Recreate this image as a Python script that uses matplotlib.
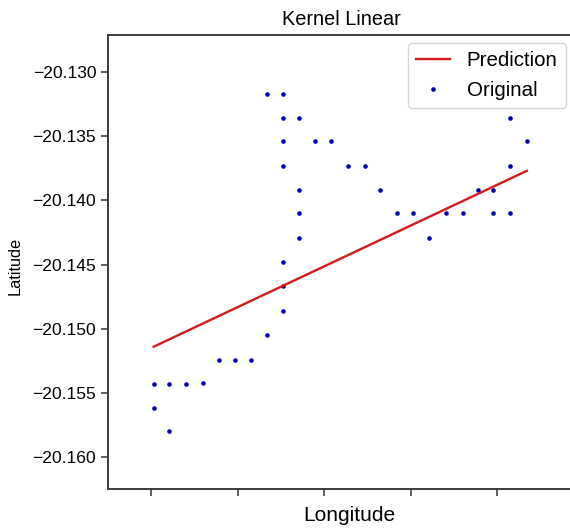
import matplotlib
matplotlib.use("Agg")
import matplotlib.pyplot as plt

plt.rcParams['font.family'] = ['Liberation Sans', 'DejaVu Sans']

# Original observations (longitude, latitude)
lon = [57.5003, 57.5003, 57.5021, 57.5021, 57.5040, 57.5060, 57.5078, 57.5097,
       57.5115, 57.5134, 57.5134, 57.5152, 57.5152, 57.5152, 57.5152, 57.5152,
       57.5152, 57.5152, 57.5171, 57.5171, 57.5171, 57.5171, 57.5189, 57.5208,
       57.5228, 57.5247, 57.5265, 57.5284, 57.5302, 57.5321, 57.5341, 57.5360,
       57.5378, 57.5395, 57.5395, 57.5415, 57.5415, 57.5415, 57.5434]
lat = [-20.1543, -20.1562, -20.1543, -20.1580, -20.1543, -20.1542, -20.1524, -20.1524,
       -20.1524, -20.1505, -20.1317, -20.1317, -20.1336, -20.1354, -20.1373, -20.1448,
       -20.1467, -20.1486, -20.1336, -20.1392, -20.1410, -20.1429, -20.1354, -20.1354,
       -20.1373, -20.1373, -20.1392, -20.1410, -20.1410, -20.1429, -20.1410, -20.1410,
       -20.1392, -20.1392, -20.1410, -20.1410, -20.1336, -20.1373, -20.1354]

# Linear-kernel prediction
pred_lon = [57.5003, 57.5434]
pred_lat = [-20.1514, -20.1377]

xticks = [57.50, 57.51, 57.52, 57.53, 57.54]
yticks = [-20.130, -20.135, -20.140, -20.145, -20.150, -20.155, -20.160]

fig = plt.figure(figsize=(5.7, 5.3), dpi=100)
ax = fig.add_axes([108 / 570, 1 - 489 / 530, (574 - 108) / 570, (489 - 35) / 530])

ax.plot(pred_lon, pred_lat, color='#d41a1a', linewidth=1.7, label='Prediction', zorder=3)
ax.plot(lon, lat, linestyle='none', marker='o', markersize=3.3, color='#0000b0',
        markeredgewidth=0, label='Original', zorder=2)

ax.set_xlim(57.49503, 57.54885)
ax.set_ylim(-20.16248, -20.12712)
ax.set_xticks(xticks)
ax.set_xticklabels([])
ax.set_yticks(yticks)
ax.set_yticklabels(['\u2212%.3f' % abs(v) for v in yticks])
ax.tick_params(axis='both', labelsize=12.6, length=5, width=1.1, color='#333333')

for s in ax.spines.values():
    s.set_color('#3a3a3a')
    s.set_linewidth(1.4)

ax.set_title('Kernel Linear', fontsize=14.3, pad=7)
ax.set_xlabel('Longitude', fontsize=15)
ax.xaxis.set_label_coords((349 - 108) / (574 - 108), (489 - 506) / 454)
ax.set_ylabel('Latitude', fontsize=11.7)
ax.yaxis.set_label_coords((23 - 108) / (574 - 108), 0.5 - 4 / 454)

ax.legend(loc='upper right', fontsize=14.8, handlelength=1.65, borderaxespad=0.4)

fig.savefig('out.png', dpi=100)
